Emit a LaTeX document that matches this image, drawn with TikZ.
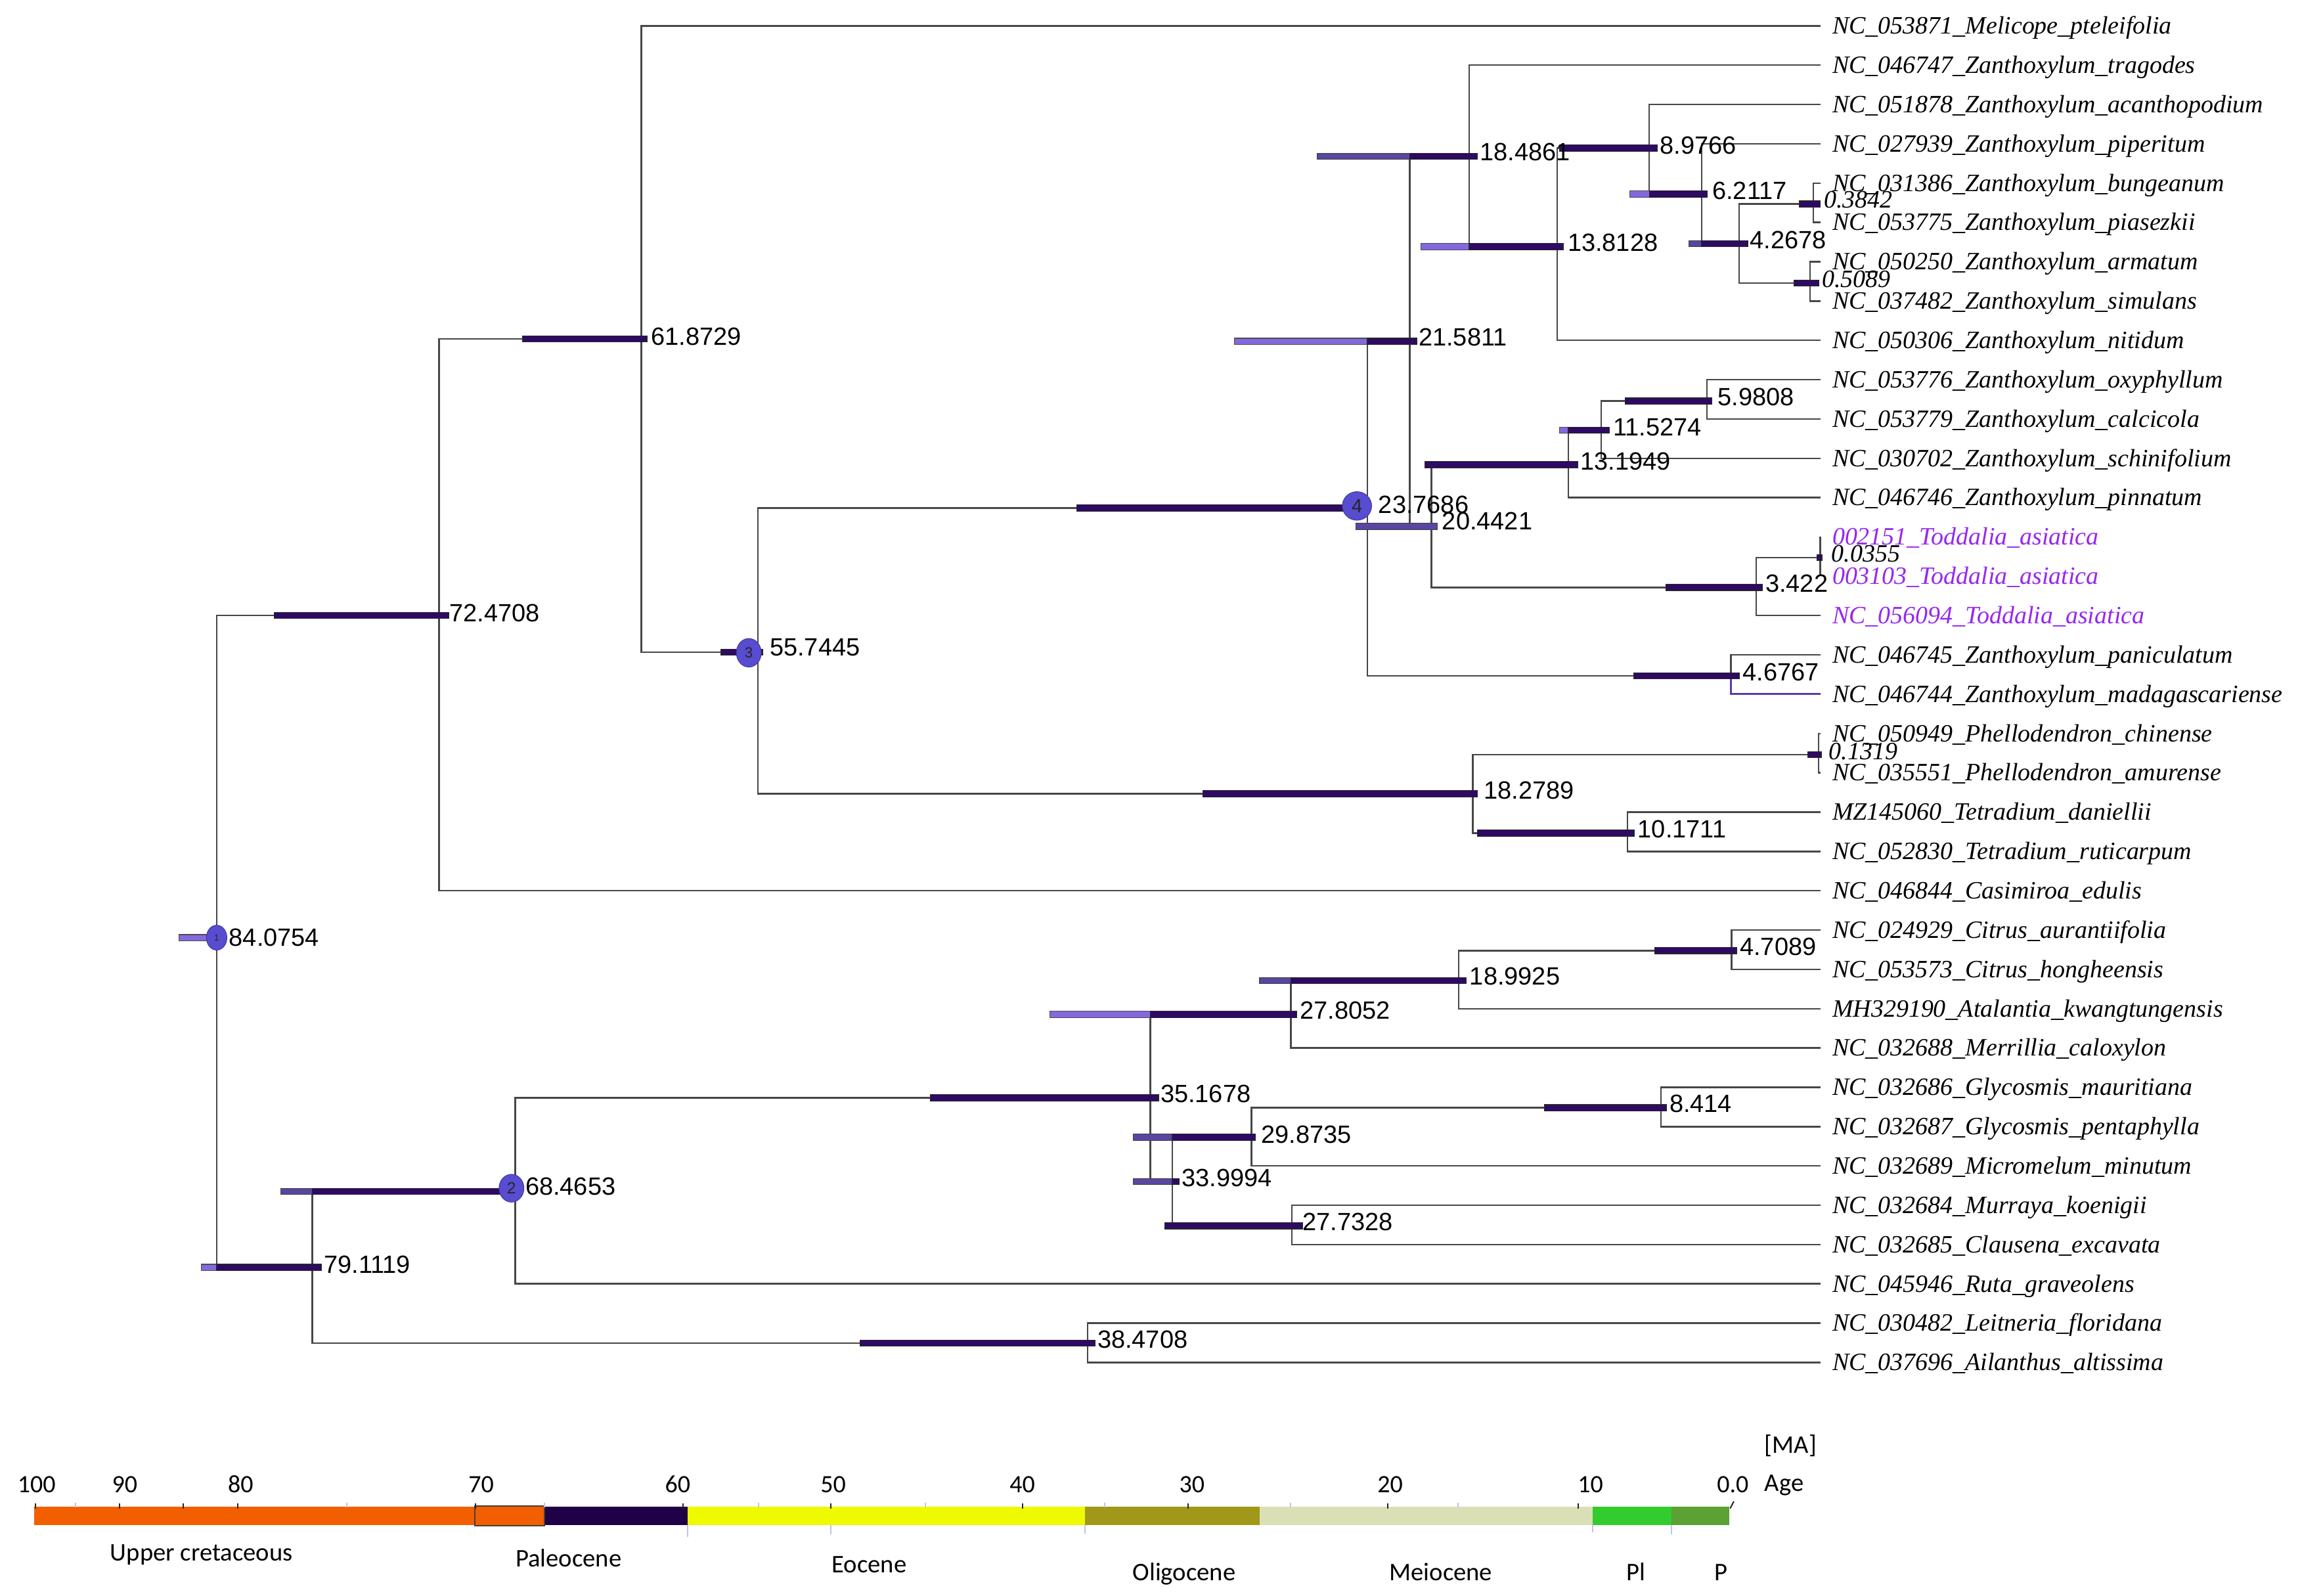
\documentclass[tikz,border=0pt]{standalone}
\usepackage{fontspec}
\setmainfont{Liberation Serif}
\newfontfamily\arialf{Liberation Sans}
\newfontfamily\calf{Carlito}
\usetikzlibrary{shapes.geometric}
\definecolor{bdarkC}{RGB}{46,10,100}
\definecolor{blightC}{RGB}{132,104,224}
\definecolor{bmedC}{RGB}{88,70,160}
\definecolor{circC}{RGB}{88,76,208}
\definecolor{todC}{RGB}{150,40,240}
\definecolor{madC}{RGB}{90,60,170}
\definecolor{orangeC}{RGB}{242,95,0}
\definecolor{paleoC}{RGB}{32,0,70}
\definecolor{eoceneC}{RGB}{238,250,0}
\definecolor{oligoC}{RGB}{160,152,24}
\definecolor{mioC}{RGB}{219,223,182}
\definecolor{plC}{RGB}{50,204,46}
\definecolor{pC}{RGB}{91,161,51}
\definecolor{lavC}{RGB}{190,195,240}
\tikzset{
  tree/.style={draw=black!72, line width=1.1pt},
  bdark/.style={fill=bdarkC, draw=black!85, line width=0.5pt},
  blight/.style={fill=blightC, draw=black!70, line width=0.5pt},
  bmed/.style={fill=bmedC, draw=black!75, line width=0.5pt},
  leaflab/.style={anchor=base west, inner sep=0pt, font=\fontsize{17}{20}\selectfont\itshape},
  agelab/.style={anchor=west, inner sep=0pt, font=\arialf\fontsize{17}{20}\selectfont},
  smalllab/.style={anchor=west, inner sep=0pt, font=\fontsize{17}{20}\selectfont\itshape},
  circ/.style={ellipse, fill=circC, draw=circC!70!black, line width=0.4pt, inner sep=0pt, text=black!85},
  tlab/.style={anchor=base, inner sep=0pt, font=\calf\fontsize{17}{20}\selectfont},
  elab/.style={anchor=base west, inner sep=0pt, font=\calf\fontsize{17.3}{20}\selectfont},
  tickk/.style={draw=black!85, line width=0.9pt},
  tickl/.style={draw=lavC, line width=0.9pt}
}
\newcommand\barD[3]{\filldraw[bdark] (#1,#3-2.1) rectangle (#2,#3+2.1);}
\newcommand\barL[3]{\filldraw[blight] (#1,#3-2.1) rectangle (#2,#3+2.1);}
\newcommand\barM[3]{\filldraw[bmed] (#1,#3-2.1) rectangle (#2,#3+2.1);}
\begin{document}
\begin{tikzpicture}[x=1pt,y=-1pt]
\useasboundingbox (0,0) rectangle (1568,1088);
\fill[white] (0,0) rectangle (1568,1088);

% leaf end points
\foreach \i in {1,...,35} \coordinate (l\i) at (1241,{17.6+(\i-1)*26.8});

% internal nodes (vertical x, y)
\coordinate (r84) at (147.7,639.2);
\coordinate (n72) at (299.4,419.6);
\coordinate (n61) at (437.3,231);
\coordinate (n55) at (516.8,444.5);
\coordinate (n23) at (932.2,346.3);
\coordinate (n21) at (961,232.7);
\coordinate (n184) at (1001.6,106.5);
\coordinate (n138) at (1061.5,168.1);
\coordinate (n89) at (1124.3,101);
\coordinate (n62) at (1160,132.3);
\coordinate (n42) at (1185.6,166);
\coordinate (n038) at (1236.2,139.1);
\coordinate (n050) at (1234,193);
\coordinate (n204) at (975.9,358.9);
\coordinate (n131) at (1069.2,316.8);
\coordinate (n115) at (1091.5,293.2);
\coordinate (n59) at (1163.7,273.4);
\coordinate (n34) at (1197.2,400.4);
\coordinate (n0355) at (1241,380.2);
\coordinate (n46) at (1180,460.8);
\coordinate (n182) at (1004,541.1);
\coordinate (n013) at (1239.8,514.5);
\coordinate (n101) at (1109.5,567.9);
\coordinate (n79) at (213,864);
\coordinate (n68) at (351.2,812.3);
\coordinate (n35) at (784.2,748.4);
\coordinate (n278) at (880,691.5);
\coordinate (n189) at (994.5,668.4);
\coordinate (n47) at (1180.5,648);
\coordinate (n33) at (799.2,805.5);
\coordinate (n298) at (853.2,775.3);
\coordinate (n84s) at (1132.4,755.2);
\coordinate (n277) at (880.6,835.6);
\coordinate (n38) at (741.4,915.6);

% branches
\draw[tree] (r84) |- (n72);
\draw[tree] (r84) |- (n79);
\draw[tree] (n72) |- (n61);
\draw[tree] (n72) |- (l23);
\draw[tree] (n61) |- (l1);
\draw[tree] (n61) |- (n55);
\draw[tree] (n55) |- (n23);
\draw[tree] (n55) |- (n182);
\draw[tree] (n23) |- (n21);
\draw[tree] (n23) |- (n46);
\draw[tree] (n21) |- (n184);
\draw[tree] (n21) |- (n204);
\draw[tree] (n184) |- (l2);
\draw[tree] (n184) |- (n138);
\draw[tree] (n138) |- (n89);
\draw[tree] (n138) |- (l9);
\draw[tree] (n89) |- (l3);
\draw[tree] (n89) |- (n62);
\draw[tree] (n62) |- (l4);
\draw[tree] (n62) |- (n42);
\draw[tree] (n42) |- (n038);
\draw[tree] (n42) |- (n050);
\draw[tree] (n038) |- (l5);
\draw[tree] (n038) |- (l6);
\draw[tree] (n050) |- (l7);
\draw[tree] (n050) |- (l8);
\draw[tree] (n204) |- (n131);
\draw[tree] (n204) |- (n34);
\draw[tree] (n131) |- (n115);
\draw[tree] (n131) |- (l13);
\draw[tree] (n115) |- (n59);
\draw[tree] (n115) |- (l12);
\draw[tree] (n59) |- (l10);
\draw[tree] (n59) |- (l11);
\draw[tree] (n34) |- (n0355);
\draw[tree] (n34) |- (l16);
\draw[tree] (n0355) |- (l14);
\draw[tree] (n0355) |- (l15);
\draw[tree] (n46) |- (l17);
\draw[tree, draw=madC, line width=1.4pt] (n46) |- (l18);
\draw[tree] (n182) |- (n013);
\draw[tree] (n182) |- (n101);
\draw[tree] (n013) |- (l19);
\draw[tree] (n013) |- (l20);
\draw[tree] (n101) |- (l21);
\draw[tree] (n101) |- (l22);
\draw[tree] (n79) |- (n68);
\draw[tree] (n79) |- (n38);
\draw[tree] (n68) |- (n35);
\draw[tree] (n68) |- (l33);
\draw[tree] (n35) |- (n278);
\draw[tree] (n35) |- (n33);
\draw[tree] (n278) |- (n189);
\draw[tree] (n278) |- (l27);
\draw[tree] (n189) |- (n47);
\draw[tree] (n189) |- (l26);
\draw[tree] (n47) |- (l24);
\draw[tree] (n47) |- (l25);
\draw[tree] (n33) |- (n298);
\draw[tree] (n33) |- (n277);
\draw[tree] (n298) |- (n84s);
\draw[tree] (n298) |- (l30);
\draw[tree] (n84s) |- (l28);
\draw[tree] (n84s) |- (l29);
\draw[tree] (n277) |- (l31);
\draw[tree] (n277) |- (l32);
\draw[tree] (n38) |- (l34);
\draw[tree] (n38) |- (l35);

% HPD bars
\barL{122}{147.7}{639.2}
\barD{187}{306}{419.6}
\barD{356}{441}{231}
\barD{491.6}{519.8}{444.5}
\barD{733.9}{925}{346.3}
\barL{841.6}{932.2}{232.7} \barD{932.2}{965.8}{232.7}
\barM{897.8}{961}{106.5} \barD{961}{1007}{106.5}
\barL{968.7}{1001.6}{168.1} \barD{1001.6}{1065.6}{168.1}
\barD{1063}{1130}{101}
\barL{1111}{1124.3}{132.3} \barD{1124.3}{1164}{132.3}
\barM{1151.5}{1160}{166} \barD{1160}{1191.5}{166}
\barD{1226.8}{1241}{139.1}
\barD{1223}{1240}{193}
\barM{924.5}{980}{358.9}
\barD{971.6}{1075.8}{316.8}
\barL{1063}{1069.2}{293.2} \barD{1069.2}{1097}{293.2}
\barD{1108}{1167}{273.4}
\barD{1135.8}{1201.4}{400.4}
\barD{1238.5}{1242}{380.2}
\barD{1113.8}{1185.7}{460.8}
\barD{820.1}{1007}{541.1}
\barD{1232.4}{1241.6}{514.5}
\barD{1007}{1114.3}{567.9}
\barL{137.3}{147.7}{864} \barD{147.7}{219}{864}
\barM{191.6}{213}{812.3} \barD{213}{350}{812.3}
\barD{634.3}{789.8}{748.4}
\barL{715.7}{784.2}{691.5} \barD{784.2}{884}{691.5}
\barM{858.4}{880}{668.4} \barD{880}{999.7}{668.4}
\barD{1128}{1184}{648}
\barM{772.7}{799.2}{805.5} \barD{799.2}{804}{805.5}
\barM{772.7}{799.2}{775.3} \barD{799.2}{856}{775.3}
\barD{1053}{1136}{755.2}
\barD{794}{888}{835.6}
\barD{586.4}{746.8}{915.6}

% numbered circles
\node[circ, minimum width=14pt, minimum height=17pt, font=\arialf\fontsize{6}{6}\selectfont] (c1) at (147.7,639.2) {1};
\node[circ, minimum width=17pt, minimum height=19pt, font=\arialf\fontsize{11}{11}\selectfont] (c2) at (348.7,810) {2};
\node[circ, minimum width=17pt, minimum height=19.5pt, font=\arialf\fontsize{10}{10}\selectfont] (c3) at (510.5,445) {3};
\node[circ, minimum width=20pt, minimum height=19.5pt, font=\arialf\fontsize{13}{13}\selectfont] (c4) at (925.1,344.9) {4};

% age labels
\node[agelab] (a84) at (156,639.2) {84.0754};
\node[agelab] (a72) at (306.3,417.8) {72.4708};
\node[agelab] (a61) at (443.7,229.3) {61.8729};
\node[agelab] (a55) at (524.6,441.4) {55.7445};
\node[agelab] (a23) at (939.6,344) {23.7686};
\node[agelab] (a21) at (967,230) {21.5811};
\node[agelab] (a184) at (1008.7,103.8) {18.4861};
\node[agelab] (a138) at (1068.6,165.4) {13.8128};
\node[agelab] (a89) at (1131.5,99.2) {8.9766};
\node[agelab] (a62) at (1167.2,130) {6.2117};
\node[agelab] (a42) at (1192.8,163.4) {4.2678};
\node[agelab] (a204) at (983,355.3) {20.4421};
\node[agelab] (a131) at (1077.2,314.6) {13.1949};
\node[agelab] (a115) at (1099.5,291) {11.5274};
\node[agelab] (a59) at (1171,270.7) {5.9808};
\node[agelab] (a34) at (1203.4,397.6) {3.422};
\node[agelab] (a46) at (1188,458) {4.6767};
\node[agelab] (a182) at (1011.5,538.7) {18.2789};
\node[agelab] (a101) at (1116.4,565.4) {10.1711};
\node[agelab] (a79) at (220.7,861.9) {79.1119};
\node[agelab] (a68) at (358,808.9) {68.4653};
\node[agelab] (a35) at (791,745.6) {35.1678};
\node[agelab] (a278) at (886,689) {27.8052};
\node[agelab] (a189) at (1001.8,665.7) {18.9925};
\node[agelab] (a47) at (1186,645.6) {4.7089};
\node[agelab] (a298) at (859.7,773.5) {29.8735};
\node[agelab] (a33) at (805.6,802.8) {33.9994};
\node[agelab] (a84s) at (1138,752.5) {8.414};
\node[agelab] (a277) at (888,832.9) {27.7328};
\node[agelab] (a38) at (748,913.3) {38.4708};
\node[smalllab] (a038) at (1243.3,136) {0.3842};
\node[smalllab] (a050) at (1242,190.3) {0.5089};
\node[smalllab] (a0355) at (1248.4,377.7) {0.0355};
\node[smalllab] (a013) at (1246.7,512.4) {0.1319};

% leaf labels
\foreach \i/\c/\t in {
 1/black/{NC\_053871\_Melicope\_pteleifolia},
 2/black/{NC\_046747\_Zanthoxylum\_tragodes},
 3/black/{NC\_051878\_Zanthoxylum\_acanthopodium},
 4/black/{NC\_027939\_Zanthoxylum\_piperitum},
 5/black/{NC\_031386\_Zanthoxylum\_bungeanum},
 6/black/{NC\_053775\_Zanthoxylum\_piasezkii},
 7/black/{NC\_050250\_Zanthoxylum\_armatum},
 8/black/{NC\_037482\_Zanthoxylum\_simulans},
 9/black/{NC\_050306\_Zanthoxylum\_nitidum},
 10/black/{NC\_053776\_Zanthoxylum\_oxyphyllum},
 11/black/{NC\_053779\_Zanthoxylum\_calcicola},
 12/black/{NC\_030702\_Zanthoxylum\_schinifolium},
 13/black/{NC\_046746\_Zanthoxylum\_pinnatum},
 14/todC/{002151\_Toddalia\_asiatica},
 15/todC/{003103\_Toddalia\_asiatica},
 16/todC/{NC\_056094\_Toddalia\_asiatica},
 17/black/{NC\_046745\_Zanthoxylum\_paniculatum},
 18/black/{NC\_046744\_Zanthoxylum\_madagascariense},
 19/black/{NC\_050949\_Phellodendron\_chinense},
 20/black/{NC\_035551\_Phellodendron\_amurense},
 21/black/{MZ145060\_Tetradium\_daniellii},
 22/black/{NC\_052830\_Tetradium\_ruticarpum},
 23/black/{NC\_046844\_Casimiroa\_edulis},
 24/black/{NC\_024929\_Citrus\_aurantiifolia},
 25/black/{NC\_053573\_Citrus\_hongheensis},
 26/black/{MH329190\_Atalantia\_kwangtungensis},
 27/black/{NC\_032688\_Merrillia\_caloxylon},
 28/black/{NC\_032686\_Glycosmis\_mauritiana},
 29/black/{NC\_032687\_Glycosmis\_pentaphylla},
 30/black/{NC\_032689\_Micromelum\_minutum},
 31/black/{NC\_032684\_Murraya\_koenigii},
 32/black/{NC\_032685\_Clausena\_excavata},
 33/black/{NC\_045946\_Ruta\_graveolens},
 34/black/{NC\_030482\_Leitneria\_floridana},
 35/black/{NC\_037696\_Ailanthus\_altissima}}
 \node[leaflab, text=\c] (t\i) at (1249,{17.6+(\i-1)*26.8+5.5}) {\t};

% time scale bar
\fill[orangeC] (23.5,1027.2) rectangle (323.8,1039.5);
\fill[paleoC] (371.3,1027.2) rectangle (468.7,1039.5);
\fill[eoceneC] (468.7,1027.2) rectangle (739.6,1039.5);
\fill[oligoC] (739.6,1027.2) rectangle (858.6,1039.5);
\fill[mioC] (858.6,1027.2) rectangle (1085.7,1039.5);
\fill[plC] (1085.7,1027.2) rectangle (1139.7,1039.5);
\fill[pC] (1139.7,1027.2) rectangle (1178.8,1039.5);
\filldraw[fill=orangeC, draw=black!75, line width=1pt] (323.8,1026.6) rectangle (371.3,1040);

\foreach \x in {51.4,236.4,371,517.2,631,753,880,994} \draw[tickl] (\x,1024.5) -- (\x,1027.5);
\foreach \x in {24,81.5,125,162,324,465.8,566.3,697,810,946,1075.7} \draw[tickk] (\x,1025) -- (\x,1028.3);
\draw[tickk] (1179.5,1028.3) -- (1182,1023.5);
\foreach \x/\b in {468.7/1047.8,566.3/1046,739.6/1045.5,1085.7/1044.5,1139.7/1046} \draw[tickl] (\x,1039.8) -- (\x,\b);

\foreach \x/\n in {25/100,85/90,164/80,328/70,462/60,568/50,697/40,812.6/30,947.7/20,1084.2/10,1181.3/0.0}
  \node[tlab] (tk\n) at (\x,1017.7) {\n};
\node[elab] (ma) at (1202.8,990.5) {[MA]};
\node[elab] (age) at (1202.8,1016.4) {Age};
\node[elab] (e1) at (75,1064.2) {Upper cretaceous};
\node[elab] (e2) at (351.3,1067.9) {Paleocene};
\node[elab] (e3) at (567,1071.9) {Eocene};
\node[elab] (e4) at (772,1077.6) {Oligocene};
\node[elab] (e5) at (947,1077.6) {Meiocene};
\node[elab] (e6) at (1108.7,1077.6) {Pl};
\node[elab] (e7) at (1168.7,1077.6) {P};
\end{tikzpicture}
\end{document}
